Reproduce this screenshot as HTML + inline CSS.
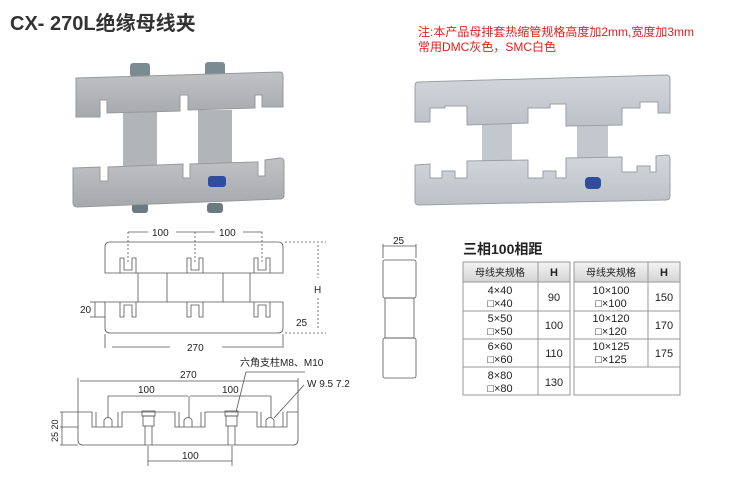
<!DOCTYPE html>
<html><head><meta charset="utf-8"><style>
body{margin:0;background:#fff;width:754px;height:481px;overflow:hidden}
svg{display:block}
text{font-family:"Liberation Sans","Noto Sans CJK SC",sans-serif}
</style></head><body>
<svg width="754" height="481" viewBox="0 0 754 481" xmlns="http://www.w3.org/2000/svg">
<defs>
<linearGradient id="g1" x1="0" y1="0" x2="0" y2="1"><stop offset="0" stop-color="#c0c2c4"/><stop offset="1" stop-color="#a6a9ac"/></linearGradient>
<linearGradient id="g2" x1="0" y1="0" x2="0" y2="1"><stop offset="0" stop-color="#d3d7dc"/><stop offset="1" stop-color="#bcc1c8"/></linearGradient>
<linearGradient id="hd" x1="0" y1="0" x2="0" y2="1"><stop offset="0" stop-color="#f4f4f4"/><stop offset="1" stop-color="#d4d4d4"/></linearGradient>
</defs>
<text x="10" y="30" font-size="20" font-weight="bold" fill="#333">CX- 270L绝缘母线夹</text>
<text x="418" y="36" font-size="12" fill="#e02020">注:本产品母排套热缩管规格高度加2mm,宽度加3mm</text>
<text x="418" y="51" font-size="12" fill="#e02020">常用DMC灰色，SMC白色</text>

<g>
<rect x="130" y="63" width="20" height="14" rx="3" fill="#7a8c92"/>
<rect x="205" y="62" width="20" height="14" rx="3" fill="#7a8c92"/>
<rect x="132" y="203" width="16" height="10" rx="3" fill="#6a7a80"/>
<rect x="207" y="203" width="16" height="10" rx="3" fill="#6a7a80"/>
<rect x="123" y="110" width="34" height="60" fill="#b2b5b8"/>
<rect x="198" y="110" width="34" height="60" fill="#b2b5b8"/>
<path d="M76 78 L280 72 Q283 72 283 76 L283 107 L262 107 L262 95 L255 95 L255 108 L188 110 L188 95 L180 95 L180 111 L107 113 L107 100 L100 100 L100 117 L76 117 Z" fill="url(#g1)" stroke="#969a9e" stroke-width="1"/>
<path d="M73 168 L100 167 L100 181 L108 181 L108 167 L183 164 L183 178 L190 178 L190 164 L255 162 L258 162 L258 176 L265 176 L265 160 L280 158 Q284 158 284 162 L284 195 Q284 199 280 199 L78 207 Q73 207 73 203 Z" fill="url(#g1)" stroke="#969a9e" stroke-width="1"/>
<rect x="208" y="176" width="18" height="11" rx="3" fill="#2f4d9a"/>
</g>

<g>
<rect x="482" y="115" width="30" height="55" fill="#c3c8ce"/>
<rect x="577" y="115" width="31" height="55" fill="#c3c8ce"/>
<path d="M418 82 L666 75 Q670 75 670 79 L670 113 L658 113 L658 102 L640 102 L640 108 L622 108 L622 125 L566 126 L566 104 L550 104 L550 108 L528 108 L528 123 L467 125 L467 106 L445 106 L445 108 L430 108 L430 122 L415 122 L415 86 Q415 82 418 82 Z" fill="url(#g2)" stroke="#9aa0a8" stroke-width="1"/>
<path d="M415 165 L430 164 L430 178 L442 178 L442 171 L455 171 L455 178 L467 178 L467 161 L528 160 L528 178 L543 178 L543 171 L556 171 L556 178 L566 178 L566 158 L622 157 L622 172 L637 172 L637 166 L650 166 L650 172 L656 172 L656 156 L667 155 Q670 155 670 159 L670 196 Q670 200 666 200 L419 205 Q415 205 415 201 Z" fill="url(#g2)" stroke="#9aa0a8" stroke-width="1"/>
<rect x="585" y="177" width="16" height="12" rx="4" fill="#2f4d9a"/>
</g>

<g stroke="#555" stroke-width="0.8" fill="none">
<path d="M110 242 H278 Q283 242 283 247 V273 H105 V247 Q105 242 110 242 Z"/>
<path d="M105 302 H283 V328 Q283 333 278 333 H110 Q105 333 105 328 Z"/>
<line x1="138" y1="273" x2="138" y2="302"/><line x1="167" y1="273" x2="167" y2="302"/>
<line x1="223" y1="273" x2="223" y2="302"/><line x1="250" y1="273" x2="250" y2="302"/>
<path d="M120 273 V258 H124 V270 H132 V258 H136 V273"/>
<path d="M187 273 V258 H191 V270 H199 V258 H203 V273"/>
<path d="M254 273 V258 H258 V270 H266 V258 H270 V273"/>
<path d="M120 302 V317 H124 V305 H132 V317 H136 V302"/>
<path d="M187 302 V317 H191 V305 H199 V317 H203 V302"/>
<path d="M254 302 V317 H258 V305 H266 V317 H270 V302"/>
<g stroke-dasharray="2,2"><line x1="128" y1="232" x2="128" y2="262"/><line x1="195" y1="232" x2="195" y2="262"/><line x1="262" y1="232" x2="262" y2="262"/>
<line x1="285" y1="242" x2="326" y2="242"/><line x1="285" y1="333" x2="326" y2="333"/><line x1="318" y1="245" x2="318" y2="278"/><line x1="318" y1="298" x2="318" y2="330"/></g>
<line x1="128" y1="232" x2="148" y2="232"/><line x1="176" y1="232" x2="215" y2="232"/><line x1="243" y1="232" x2="262" y2="232"/>
<line x1="105" y1="334" x2="105" y2="348"/><line x1="283" y1="334" x2="283" y2="348"/>
<line x1="112" y1="347" x2="170" y2="347"/><line x1="222" y1="347" x2="282" y2="347"/>
<line x1="90" y1="302" x2="105" y2="302"/><line x1="90" y1="317" x2="105" y2="317"/><line x1="95" y1="302" x2="95" y2="317"/>
</g>
<g font-size="10" fill="#222">
<text x="152" y="236">100</text><text x="219" y="236">100</text>
<text x="314" y="293">H</text><text x="296" y="326">25</text>
<text x="80" y="313">20</text><text x="187" y="351">270</text>
</g>

<g stroke="#555" stroke-width="0.8" fill="none">
<rect x="383" y="260" width="33" height="38" rx="2"/>
<rect x="385" y="298" width="29" height="40"/>
<rect x="383" y="338" width="33" height="40" rx="2"/>
<line x1="383" y1="244" x2="383" y2="258"/><line x1="416" y1="244" x2="416" y2="258"/>
<line x1="383" y1="246" x2="416" y2="246"/>
</g>
<text x="393" y="244" font-size="10" fill="#222">25</text>

<g stroke="#555" stroke-width="0.8" fill="none">
<path d="M78 412 H92 V427 H122 V412 H175 V427 H205 V412 H257 V427 H287 V412 H298 V440 Q298 445 293 445 H83 Q78 445 78 440 Z"/>
<path d="M96 412 V427 M118 412 V427 M179 412 V427 M201 412 V427 M261 412 V427 M283 412 V427"/>
<path d="M104 427 V420 Q108 415 112 420 V427"/><path d="M184 427 V420 Q188 415 192 420 V427"/><path d="M266 427 V420 Q270 415 274 420 V427"/>
<rect x="142" y="411" width="13" height="5"/><rect x="143" y="416" width="11" height="10"/><line x1="145" y1="426" x2="145" y2="445"/><line x1="152" y1="426" x2="152" y2="445"/>
<rect x="225" y="411" width="13" height="5"/><rect x="226" y="416" width="11" height="10"/><line x1="228" y1="426" x2="228" y2="445"/><line x1="235" y1="426" x2="235" y2="445"/>
<line x1="80" y1="381" x2="298" y2="381"/><line x1="78" y1="378" x2="78" y2="412"/><line x1="298" y1="378" x2="298" y2="412"/>
<line x1="108" y1="396" x2="188" y2="396"/><line x1="190" y1="396" x2="271" y2="396"/>
<line x1="108" y1="396" x2="108" y2="418"/><line x1="189" y1="396" x2="189" y2="418"/><line x1="271" y1="396" x2="271" y2="418"/>
<line x1="148" y1="446" x2="148" y2="466"/><line x1="232" y1="446" x2="232" y2="466"/><line x1="148" y1="461" x2="232" y2="461"/>
<polyline points="236,412 246,372 305,372"/><line x1="274" y1="418" x2="304" y2="385"/>
<line x1="60" y1="412" x2="78" y2="412"/><line x1="60" y1="427" x2="78" y2="427"/><line x1="60" y1="445" x2="78" y2="445"/><line x1="62" y1="412" x2="62" y2="445"/>
</g>
<g font-size="10" fill="#222">
<text x="180" y="378">270</text><text x="138" y="393">100</text><text x="222" y="393">100</text>
<text x="182" y="459">100</text>
<text x="240" y="366">六角支柱M8、M10</text>
<text x="307" y="387">W 9.5 7.2</text>
<text transform="translate(58,442) rotate(-90)" font-size="9">25 20</text>
</g>

<text x="463" y="254" font-size="14" font-weight="bold" fill="#222">三相100相距</text>
<g stroke="#999" stroke-width="1">
<rect x="463" y="262" width="107" height="20" fill="url(#hd)"/>
<rect x="574" y="262" width="106" height="20" fill="url(#hd)"/>
<rect x="463" y="262" width="107" height="133" fill="none"/>
<rect x="574" y="262" width="106" height="133" fill="none"/>
<line x1="538" y1="262" x2="538" y2="395"/><line x1="648" y1="262" x2="648" y2="367"/>
<line x1="463" y1="311" x2="570" y2="311"/><line x1="463" y1="339" x2="570" y2="339"/><line x1="463" y1="367" x2="570" y2="367"/>
<line x1="574" y1="311" x2="680" y2="311"/><line x1="574" y1="339" x2="680" y2="339"/><line x1="574" y1="367" x2="680" y2="367"/>
</g>
<g font-size="11" fill="#222" text-anchor="middle">
<text x="500" y="276" font-size="10">母线夹规格</text><text x="554" y="276" font-weight="bold">H</text>
<text x="611" y="276" font-size="10">母线夹规格</text><text x="664" y="276" font-weight="bold">H</text>
<text x="500" y="294">4×40</text><text x="500" y="307">□×40</text><text x="554" y="301">90</text>
<text x="500" y="322">5×50</text><text x="500" y="335">□×50</text><text x="554" y="329">100</text>
<text x="500" y="350">6×60</text><text x="500" y="363">□×60</text><text x="554" y="357">110</text>
<text x="500" y="379">8×80</text><text x="500" y="392">□×80</text><text x="554" y="386">130</text>
<text x="611" y="294">10×100</text><text x="611" y="307">□×100</text><text x="664" y="301">150</text>
<text x="611" y="322">10×120</text><text x="611" y="335">□×120</text><text x="664" y="329">170</text>
<text x="611" y="350">10×125</text><text x="611" y="363">□×125</text><text x="664" y="357">175</text>
</g>
</svg>
</body></html>
